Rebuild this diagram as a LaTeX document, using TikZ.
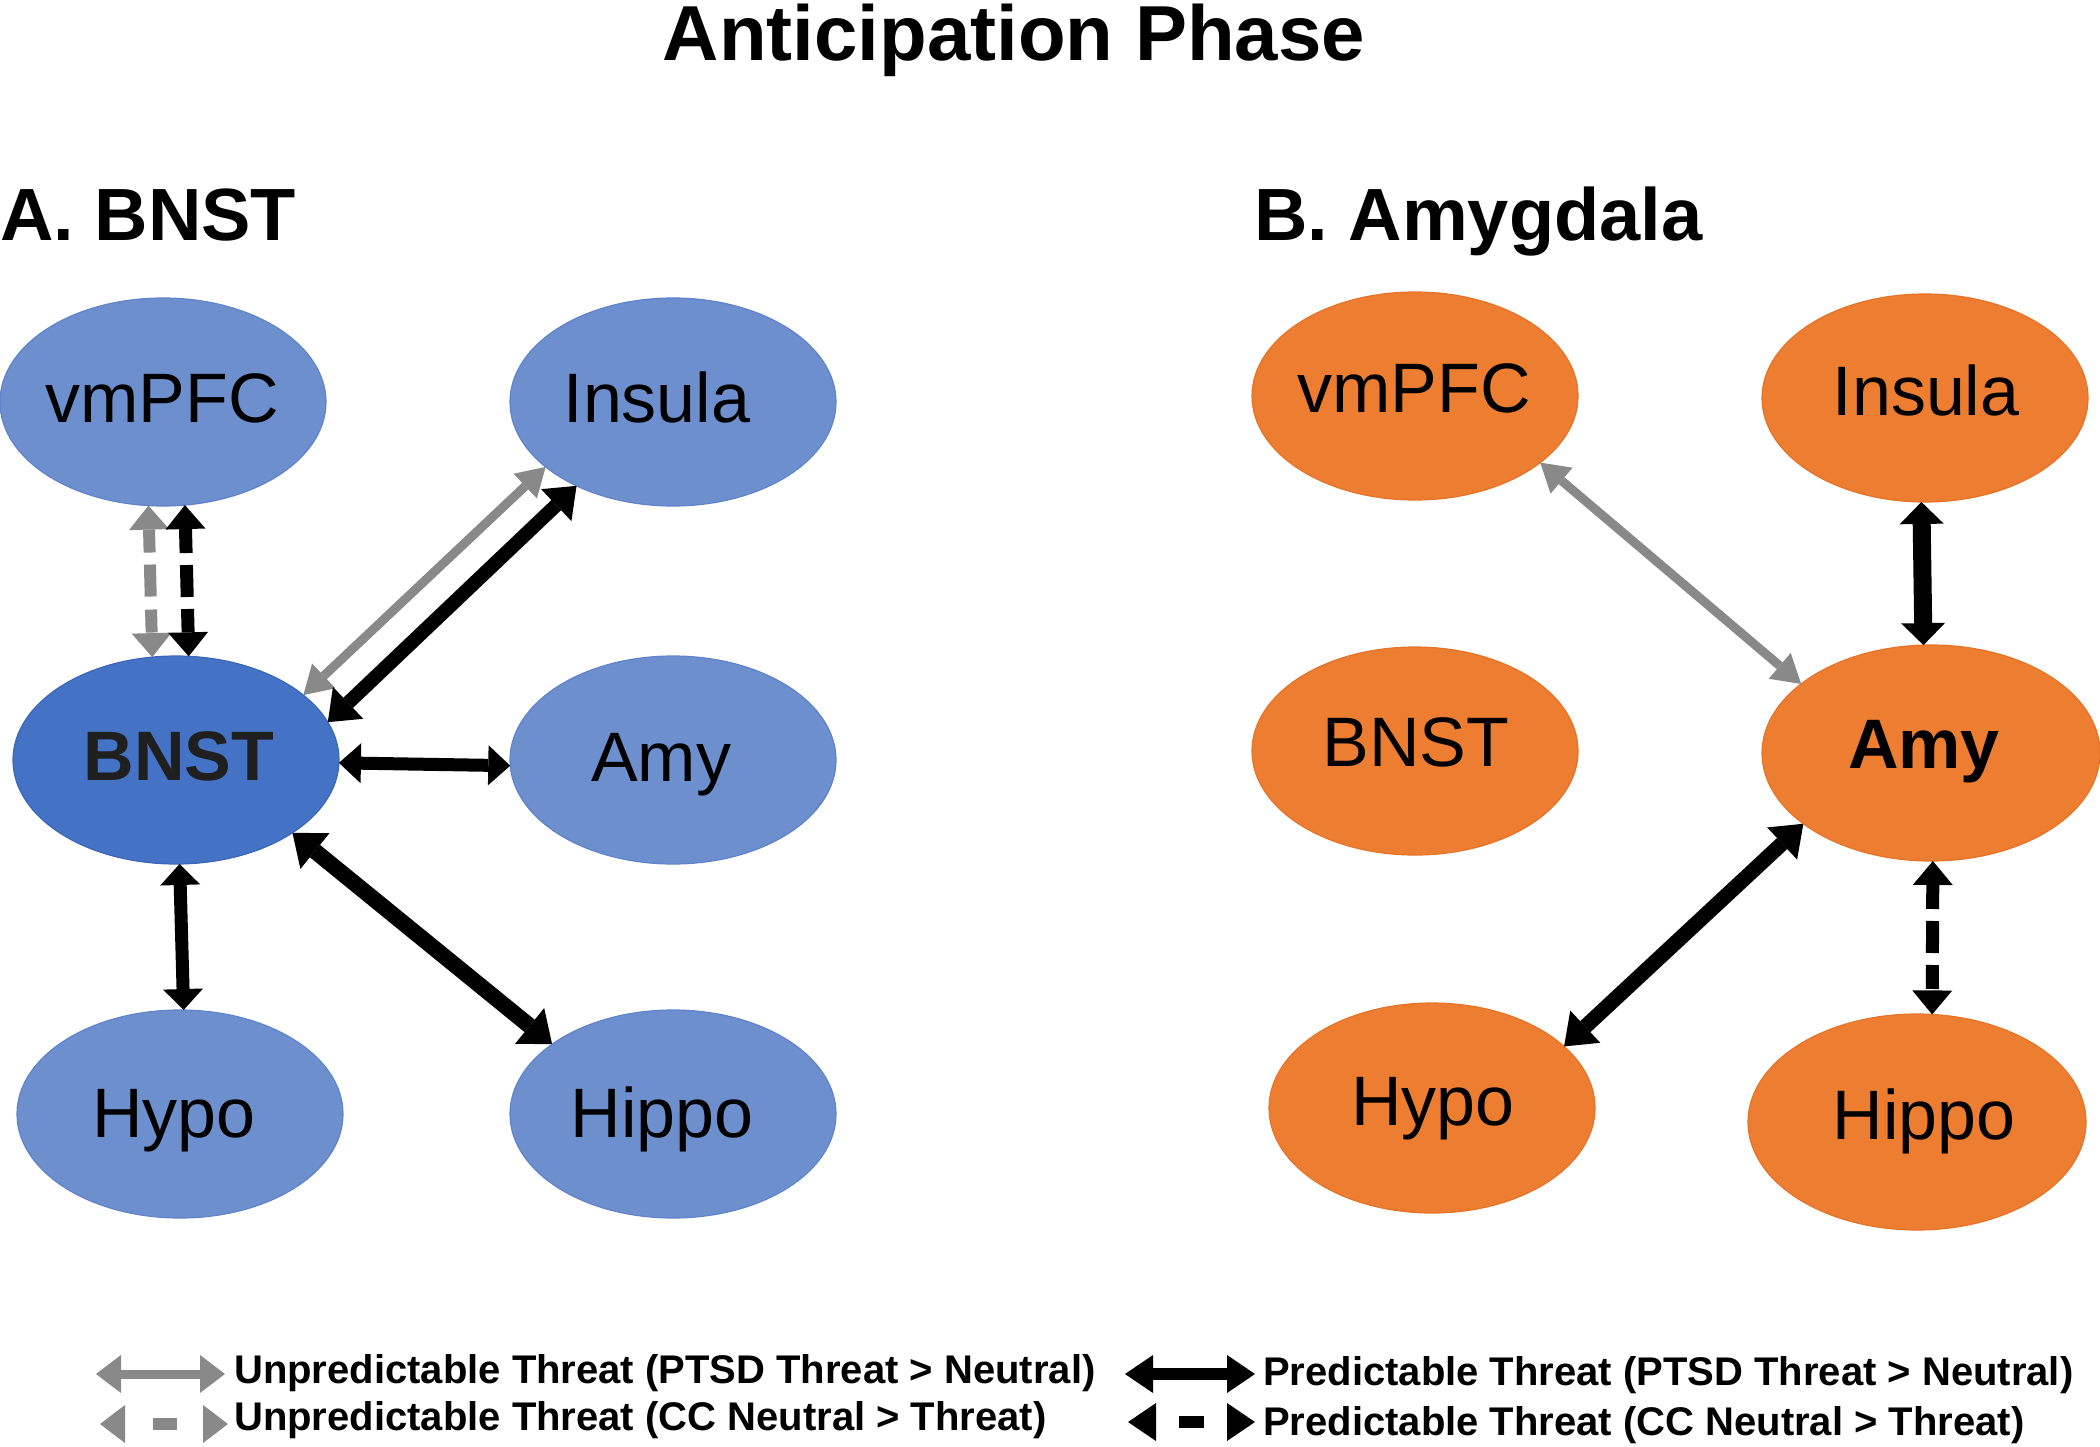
\documentclass[tikz,border=0pt]{standalone}
\usepackage{fontspec}
\setmainfont{Liberation Sans}
\usetikzlibrary{arrows.meta,shapes.geometric}
\definecolor{lblue}{HTML}{6D8FCE}
\definecolor{lblueline}{HTML}{5F84C9}
\definecolor{dblue}{HTML}{4472C4}
\definecolor{dblueline}{HTML}{3A66B8}
\definecolor{orng}{HTML}{ED7D31}
\definecolor{orngline}{HTML}{E57428}
\definecolor{arrgray}{HTML}{898989}
\begin{document}
\begin{tikzpicture}[x=1pt,y=-1pt,
  region/.style={ellipse, inner sep=0pt, outer sep=0pt, minimum width=326pt, minimum height=208pt, line width=1.2pt},
  bigregion/.style={minimum width=338pt, minimum height=216pt},
  bluereg/.style={region, fill=lblue, draw=lblueline},
  bnstreg/.style={region, fill=dblue, draw=dblueline},
  orreg/.style={region, fill=orng, draw=orngline},
  lbl/.style={font=\fontsize{70}{70}\selectfont, text height=50pt, text depth=0pt, inner sep=0pt},
  lblb/.style={lbl, font=\fontsize{70}{70}\selectfont\bfseries},
  legtext/.style={font=\fontsize{40}{40}\selectfont\bfseries, text height=29pt, text depth=0pt, inner sep=0pt, anchor=west},
  panel/.style={font=\fontsize{74}{74}\selectfont\bfseries, anchor=base west, inner sep=0pt},
  conn/.style n args={4}{draw=#4, line width=#1, arrows={Triangle[width=#2,length=#3,line width=0pt]-Triangle[width=#2,length=#3,line width=0pt]}},
  blkarrow/.style n args={3}{conn={#1}{#2}{#3}{black}},
  grayarrow/.style={conn={9pt}{34pt}{28pt}{arrgray}},
  graydash/.style={conn={12pt}{40pt}{24pt}{arrgray}, dash pattern=on 23pt off 12pt on 32pt off 13pt},
  blkdash/.style={conn={13pt}{40pt}{24pt}{black}, dash pattern=on 24pt off 12pt on 32pt off 12pt}
]
\useasboundingbox (0,0) rectangle (2100,1447);

% title and panel labels
\node[font=\fontsize{78}{78}\selectfont\bfseries, anchor=base, inner sep=0pt] (title) at (1014,61) {Anticipation Phase};
\node[panel] (pa) at (0,241) {A. BNST};
\node[panel] (pb) at (1254,241) {B. Amygdala};

% left panel
\node[bluereg, label={[lbl, xshift=-1pt, yshift=5pt]center:vmPFC}] (lvm) at (163,402) {};
\node[bluereg, label={[lbl, xshift=-16pt, yshift=5pt]center:Insula}] (lins) at (673,402) {};
\node[bnstreg, label={[lblb, text=black!88, xshift=3pt, yshift=5pt]center:BNST}] (lbn) at (176,760) {};
\node[bluereg, label={[lbl, xshift=-12pt, yshift=4pt]center:Amy}] (lamy) at (673,760) {};
\node[bluereg, label={[lbl, xshift=-6pt, yshift=2pt]center:Hypo}] (lhyp) at (180,1114) {};
\node[bluereg, label={[lbl, xshift=-11pt, yshift=2pt]center:Hippo}] (lhip) at (673,1114) {};

% right panel
\node[orreg, label={[lbl, xshift=-1pt, yshift=9pt]center:vmPFC}] (rvm) at (1415,396) {};
\node[orreg, label={[lbl, xshift=1pt, yshift=8pt]center:Insula}] (rins) at (1925,398) {};
\node[orreg, label={[lbl, xshift=1pt, yshift=10pt]center:BNST}] (rbn) at (1415,751) {};
\node[orreg, bigregion, label={[lblb, xshift=-7pt, yshift=10pt]center:Amy}] (ramy) at (1931,753) {};
\node[orreg, minimum height=210pt, label={[lbl, xshift=1pt, yshift=8pt]center:Hypo}] (rhyp) at (1432,1108) {};
\node[orreg, bigregion, label={[lbl, xshift=7pt, yshift=8pt]center:Hippo}] (rhip) at (1917,1122) {};

% left connectors
\draw[graydash] (lvm.262.9) -- (lbn.103.9);
\draw[blkdash] (lvm.282.8) -- (lbn.83.8);
\draw[grayarrow] (lbn.27.1) -- (lins.207.5);
\draw[blkarrow={14pt}{44pt}{28pt}] (lbn.14.7) -- (lins.221.6);
\draw[blkarrow={13pt}{40pt}{22pt}] (lbn.-1) -- (lamy.182);
\draw[blkarrow={16pt}{46pt}{29pt}] (lbn.-32.4) -- (lhip.150.9);
\draw[blkarrow={13pt}{40pt}{21pt}] (lbn.272.8) -- (lhyp.88.3);

% right connectors
\draw[grayarrow] (rvm.-28.4) -- (ramy.152);
\draw[blkarrow={18pt}{44pt}{22pt}] (rins.268.9) -- (ramy.94.2);
\draw[blkarrow={15pt}{44pt}{29pt}] (ramy.209.5) -- (rhyp.25.9);
\draw[blkdash] (ramy.-89.5) -- (rhip.82);

% legend
\coordinate (lga1) at (96,1374);
\coordinate (lgb1) at (225,1374);
\coordinate (lga2) at (100,1424);
\coordinate (lgb2) at (228,1424);
\coordinate (rga1) at (1125,1374);
\coordinate (rgb1) at (1255,1374);
\coordinate (rga2) at (1128,1422);
\coordinate (rgb2) at (1255,1422);
\draw[conn={9pt}{38pt}{25pt}{arrgray}] (lga1) -- (lgb1);
\draw[conn={12pt}{38pt}{25pt}{arrgray}, dash pattern=on 24pt off 100pt, dash phase=96pt] (lga2) -- (lgb2);
\draw[conn={12pt}{38pt}{28pt}{black}] (rga1) -- (rgb1);
\draw[conn={12pt}{38pt}{28pt}{black}, dash pattern=on 25pt off 100pt, dash phase=102pt] (rga2) -- (rgb2);
\node[legtext] (lt1) at (234,1369) {Unpredictable Threat (PTSD Threat > Neutral)};
\node[legtext] (lt2) at (234,1416) {Unpredictable Threat (CC Neutral > Threat)};
\node[legtext] (rt1) at (1263,1371) {Predictable Threat (PTSD Threat > Neutral)};
\node[legtext] (rt2) at (1263,1421) {Predictable Threat (CC Neutral > Threat)};
\end{tikzpicture}
\end{document}
